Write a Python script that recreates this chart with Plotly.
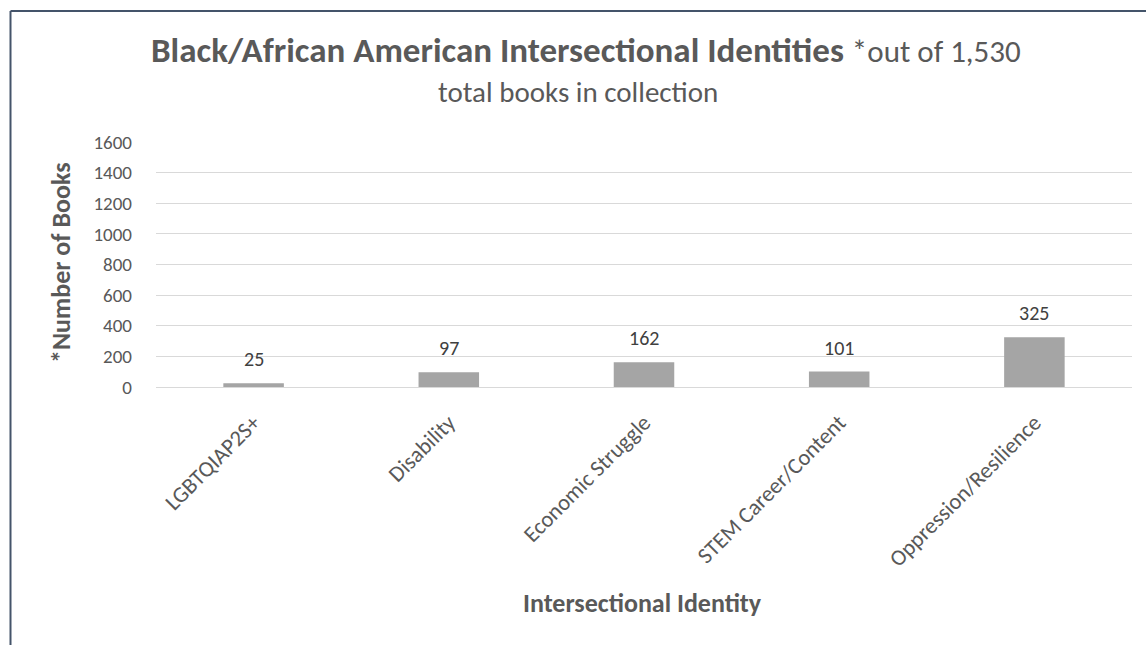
import plotly.graph_objects as go

# Book counts by intersectional identity
categories = ["LGBTQIAP2S+", "Disability", "Economic Struggle", "STEM Career/Content", "Oppression/Resilience"]
books = [25, 97, 162, 101, 325]
y_ticks = [0, 200, 400, 600, 800, 1000, 1200, 1400, 1600]

W, H = 1146, 645
L, R, T, B = 156, 14, 142, 258
PW, PH = W - L - R, H - T - B

FONT = "Calibri, Carlito, Lato, sans-serif"
TXT = "#595959"


def px_x(x):
    return (x - L) / PW


def px_y(y):
    return 1 - (y - T) / PH


fig = go.Figure()
fig.add_trace(go.Bar(
    x=categories, y=books,
    marker=dict(color="#A5A5A5", line=dict(width=0)),
    hoverinfo="x+y",
))

# value labels above each bar
for c, v in zip(categories, books):
    fig.add_annotation(x=c, y=v, text=str(v), showarrow=False,
                       yanchor="bottom", yshift=10,
                       font=dict(family=FONT, size=20, color="#404040"))

# chart title (two centred lines)
fig.add_annotation(
    xref="paper", yref="paper", x=px_x(586), y=px_y(50),
    xanchor="center", yanchor="middle", showarrow=False,
    text=("<b>Black/African American Intersectional Identities</b> "
          "<span style='font-size:31px'>*out of 1,530</span>"),
    font=dict(family=FONT, size=35, color=TXT),
)
fig.add_annotation(
    xref="paper", yref="paper", x=px_x(578), y=px_y(92),
    xanchor="center", yanchor="middle", showarrow=False,
    text="total books in collection",
    font=dict(family=FONT, size=29, color=TXT),
)

# axis titles
fig.add_annotation(
    xref="paper", yref="paper", x=px_x(642), y=px_y(603),
    xanchor="center", yanchor="middle", showarrow=False,
    text="<b>Intersectional Identity</b>",
    font=dict(family=FONT, size=26, color=TXT),
)
fig.add_annotation(
    xref="paper", yref="paper", x=px_x(61), y=px_y(263),
    xanchor="center", yanchor="middle", showarrow=False, textangle=-90,
    text="<b>*Number of Books</b>",
    font=dict(family=FONT, size=26, color=TXT),
)

# chart-area border (left and top edges)
border = dict(color="#44546A", width=2)
fig.add_shape(type="line", xref="paper", yref="paper",
              x0=px_x(10.5), x1=px_x(1150), y0=px_y(11), y1=px_y(11), line=border)
fig.add_shape(type="line", xref="paper", yref="paper",
              x0=px_x(10.5), x1=px_x(10.5), y0=px_y(11), y1=px_y(650), line=border)

fig.update_layout(
    width=W, height=H,
    margin=dict(l=L, r=R, t=T, b=B, autoexpand=False),
    paper_bgcolor="white", plot_bgcolor="white",
    showlegend=False, bargap=0.69,
    font=dict(family=FONT, color=TXT),
)
fig.update_xaxes(
    tickangle=-45, tickfont=dict(family=FONT, size=22.5, color=TXT),
    showgrid=False, showline=False, ticks="", ticklabelstandoff=17,
)
fig.update_yaxes(
    range=[0, 1600], tickvals=y_ticks, ticktext=[str(v) for v in y_ticks],
    tickfont=dict(family=FONT, size=19, color=TXT),
    showgrid=True, gridcolor="#D9D9D9", gridwidth=1.3,
    zeroline=True, zerolinecolor="#D9D9D9", zerolinewidth=1.3,
    showline=False, ticks="", ticklabelstandoff=23,
)

fig.write_html("out.html")
